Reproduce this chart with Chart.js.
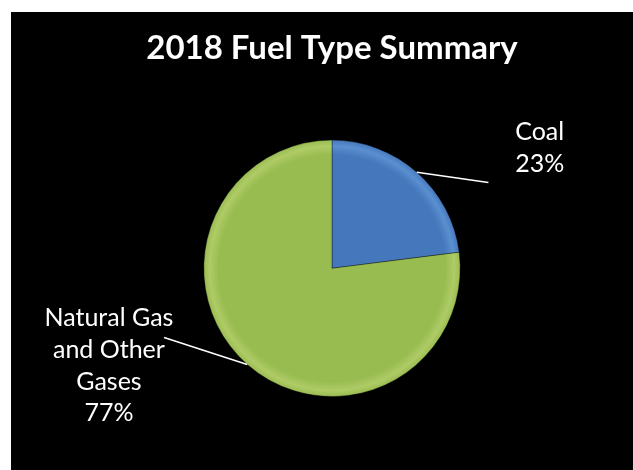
<!DOCTYPE html>
<html lang="en">
<head>
    <meta charset="UTF-8">
    <title>2018 Fuel Type Summary</title>
    <script src="https://cdn.jsdelivr.net/npm/chart.js"></script>
    <style>
        body { margin: 0; background: #fff; }
        #box { position: absolute; left: 11px; top: 12px; width: 622px; height: 458px; background: #000; }
    </style>
</head>
<body>
    <div id="box"><canvas id="fuelChart"></canvas></div>
    <script>
        // chart data
        const fuelTypes = ['Coal', 'Natural Gas and Other Gases'];
        const shares = [23, 77];
        const labelLines = [['Coal', '23%'], ['Natural Gas', 'and Other', 'Gases', '77%']];

        const baseColors = ['#4477bb', '#98bc50'];
        const rimColors = ['#5a8fd0', '#afcb66'];

        // where each label sits, relative to pie centre in radius units
        const labelPos = [
            { x: 1.62, y: -1.06, endX: 1.22, endY: -0.67 },
            { x: -1.74, y: 0.39, endX: -1.31, endY: 0.54 }
        ];

        function sliceFill(ctx) {
            const chart = ctx.chart;
            const a = chart.chartArea;
            const i = ctx.dataIndex;
            if (!a) return baseColors[i];
            const cx = (a.left + a.right) / 2, cy = (a.top + a.bottom) / 2;
            const r = Math.min(a.right - a.left, a.bottom - a.top) / 2;
            const g = chart.ctx.createRadialGradient(cx, cy, 0, cx, cy, r);
            g.addColorStop(0, baseColors[i]);
            g.addColorStop(0.88, baseColors[i]);
            g.addColorStop(0.95, rimColors[i]);
            g.addColorStop(1, baseColors[i]);
            return g;
        }

        const labelPlugin = {
            id: 'sliceLabels',
            afterDraw(chart) {
                const ctx = chart.ctx;
                const arcs = chart.getDatasetMeta(0).data;
                ctx.save();
                arcs.forEach((arc, i) => {
                    const r = arc.outerRadius;
                    const mid = (arc.startAngle + arc.endAngle) / 2;
                    const sx = arc.x + Math.cos(mid) * r;
                    const sy = arc.y + Math.sin(mid) * r;
                    const p = labelPos[i];
                    ctx.strokeStyle = '#fff';
                    ctx.lineWidth = 1.5;
                    ctx.beginPath();
                    ctx.moveTo(sx, sy);
                    ctx.lineTo(arc.x + p.endX * r, arc.y + p.endY * r);
                    ctx.stroke();

                    ctx.fillStyle = '#fff';
                    ctx.font = '25px Lato, sans-serif';
                    ctx.textAlign = 'center';
                    ctx.textBaseline = 'middle';
                    const lines = labelLines[i];
                    const lh = 31.6;
                    const tx = arc.x + p.x * r;
                    const ty0 = arc.y + p.y * r;
                    lines.forEach((t, k) => ctx.fillText(t, tx, ty0 + k * lh));
                });
                ctx.restore();
            }
        };

        new Chart(document.getElementById('fuelChart'), {
            type: 'pie',
            data: {
                labels: fuelTypes,
                datasets: [{
                    data: shares,
                    backgroundColor: sliceFill,
                    borderColor: 'rgba(0,0,0,0.35)',
                    borderWidth: 1
                }]
            },
            options: {
                responsive: true,
                maintainAspectRatio: false,
                animation: false,
                layout: { padding: { left: 20, right: 0, bottom: 73 } },
                plugins: {
                    legend: { display: false },
                    tooltip: { enabled: false },
                    title: {
                        display: true,
                        text: '2018 Fuel Type Summary',
                        color: '#fff',
                        font: { family: 'Lato', size: 33, weight: 'bold', lineHeight: 1.2 },
                        padding: { top: 17, bottom: 71 }
                    }
                }
            },
            plugins: [labelPlugin]
        });
    </script>
</body>
</html>
